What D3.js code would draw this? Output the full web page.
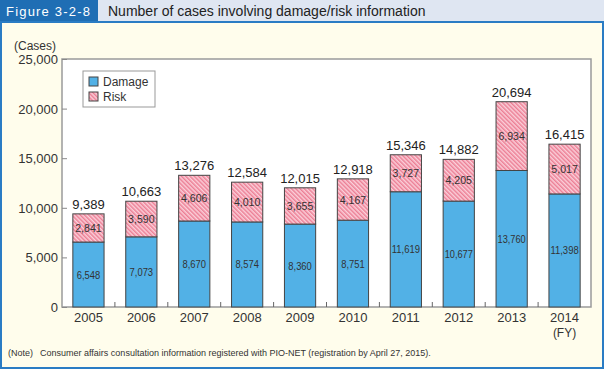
<!DOCTYPE html>
<html>
<head>
<meta charset="utf-8">
<script src="https://cdn.jsdelivr.net/npm/d3@7"></script>
<style>
  body { margin: 0; background: #fff; }
  svg { display: block; font-family: "Liberation Sans", Arial, sans-serif; }
</style>
</head>
<body>
<div id="chart"></div>
<script>
const years = ["2005", "2006", "2007", "2008", "2009", "2010", "2011", "2012", "2013", "2014"]
const damage = [6548, 7073, 8670, 8574, 8360, 8751, 11619, 10677, 13760, 11398]
const risk = [2841, 3590, 4606, 4010, 3655, 4167, 3727, 4205, 6934, 5017]
const totals = [9389, 10663, 13276, 12584, 12015, 12918, 15346, 14882, 20694, 16415]
const yTicks = [0, 5000, 10000, 15000, 20000, 25000]

const W = 604, H = 369
const m = { left: 62, right: 591, top: 59, bottom: 307 }
const fmt = d3.format(",")

const svg = d3.select("#chart").append("svg")
  .attr("width", W).attr("height", H)

const defs = svg.append("defs")
const pat = defs.append("pattern")
  .attr("id", "hatch").attr("patternUnits", "userSpaceOnUse")
  .attr("width", 3).attr("height", 3)
  .attr("patternTransform", "rotate(-45)")
pat.append("rect").attr("width", 3).attr("height", 3).attr("fill", "#fbd0da")
pat.append("rect").attr("width", 1.5).attr("height", 3).attr("fill", "#ec7f95")

// фон и рамка
svg.append("rect").attr("x", 0).attr("y", 0).attr("width", W).attr("height", H).attr("fill", "#fffdec")
svg.append("rect").attr("x", 0).attr("y", 0).attr("width", W).attr("height", 22).attr("fill", "#dfe6f2")
svg.append("rect").attr("x", 0).attr("y", 0).attr("width", 98).attr("height", 22).attr("fill", "#1f6eb4")
svg.append("rect").attr("x", 1).attr("y", 22).attr("width", W - 2).attr("height", H - 23)
  .attr("fill", "none").attr("stroke", "#2a7cc4").attr("stroke-width", 2)

svg.append("text").attr("x", 6).attr("y", 16)
  .attr("fill", "#fff").style("font-size", "13px").style("letter-spacing", "1.2px")
  .text("Figure 3-2-8")
svg.append("text").attr("x", 108).attr("y", 16)
  .attr("fill", "#222").style("font-size", "14px")
  .text("Number of cases involving damage/risk information")

const x = d3.scaleBand().domain(years).range([m.left, m.right]).paddingInner(0.41).paddingOuter(0.205)
const y = d3.scaleLinear().domain([0, 25000]).range([m.bottom, m.top])

// область графика
svg.append("rect").attr("x", m.left).attr("y", m.top)
  .attr("width", m.right - m.left).attr("height", m.bottom - m.top)
  .attr("fill", "#fff").attr("stroke", "#9a9a9a").attr("stroke-width", 1.5)

// ось Y
const yAxis = svg.append("g").attr("transform", `translate(${m.left},0)`)
  .call(d3.axisRight(y).tickValues(yTicks).tickSize(5).tickFormat(""))
yAxis.select(".domain").remove()
yAxis.selectAll("line").attr("stroke", "#888")
svg.selectAll(".ylab").data(yTicks).enter().append("text")
  .attr("x", m.left - 4).attr("y", d => y(d) + 5)
  .attr("text-anchor", "end").style("font-size", "13px").attr("fill", "#333")
  .text(d => fmt(d))
svg.append("text").attr("x", 14).attr("y", 50).style("font-size", "12px").attr("fill", "#333").text("(Cases)")

// тики между категориями
const step = x.step()
svg.selectAll(".xtick").data(years.slice(1)).enter().append("line")
  .attr("x1", d => x(d) - x.paddingInner() * step / 2)
  .attr("x2", d => x(d) - x.paddingInner() * step / 2)
  .attr("y1", m.bottom).attr("y2", m.bottom - 5)
  .attr("stroke", "#666")

// столбцы
const g = svg.selectAll(".bar").data(years).enter().append("g")
g.append("rect")
  .attr("x", d => x(d)).attr("width", x.bandwidth())
  .attr("y", (d, i) => y(damage[i])).attr("height", (d, i) => y(0) - y(damage[i]))
  .attr("fill", "#52b1e6").attr("stroke", "#444").attr("stroke-width", 1)
g.append("rect")
  .attr("x", d => x(d)).attr("width", x.bandwidth())
  .attr("y", (d, i) => y(damage[i] + risk[i])).attr("height", (d, i) => y(0) - y(risk[i]))
  .attr("fill", "url(#hatch)").attr("stroke", "#444").attr("stroke-width", 1)

g.append("text")
  .attr("x", d => x(d) + x.bandwidth() / 2)
  .attr("y", (d, i) => (y(0) + y(damage[i])) / 2 + 4)
  .attr("text-anchor", "middle").style("font-size", "11px").attr("fill", "#333")
  .attr("textLength", (d, i) => fmt(damage[i]).length * 4.7).attr("lengthAdjust", "spacingAndGlyphs")
  .text((d, i) => fmt(damage[i]))
g.append("text")
  .attr("x", d => x(d) + x.bandwidth() / 2)
  .attr("y", (d, i) => (y(damage[i]) + y(damage[i] + risk[i])) / 2 + 4)
  .attr("text-anchor", "middle").style("font-size", "11.5px").attr("fill", "#333")
  .attr("textLength", (d, i) => fmt(risk[i]).length * 5.3).attr("lengthAdjust", "spacingAndGlyphs")
  .text((d, i) => fmt(risk[i]))
g.append("text")
  .attr("x", d => x(d) + x.bandwidth() / 2)
  .attr("y", (d, i) => y(totals[i]) - 5)
  .attr("text-anchor", "middle").style("font-size", "13px").attr("fill", "#222")
  .text((d, i) => fmt(totals[i]))

// подписи X
svg.selectAll(".xlab").data(years).enter().append("text")
  .attr("x", d => x(d) + x.bandwidth() / 2).attr("y", 322)
  .attr("text-anchor", "middle").style("font-size", "13px").attr("fill", "#333")
  .text(d => d)
svg.append("text").attr("x", x("2014") + x.bandwidth() / 2).attr("y", 337)
  .attr("text-anchor", "middle").style("font-size", "12px").attr("fill", "#333").text("(FY)")

// легенда
const lg = svg.append("g").attr("transform", "translate(83,71)")
lg.append("rect").attr("width", 72).attr("height", 36).attr("fill", "#fff").attr("stroke", "#999")
const legendItems = [["Damage", "#52b1e6"], ["Risk", "url(#hatch)"]]
legendItems.forEach((d, i) => {
  lg.append("rect").attr("x", 6).attr("y", 6 + i * 15).attr("width", 9).attr("height", 9)
    .attr("fill", d[1]).attr("stroke", "#444")
  lg.append("text").attr("x", 20).attr("y", 15 + i * 15)
    .style("font-size", "12px").attr("fill", "#333").text(d[0])
})

svg.append("text").attr("x", 8).attr("y", 356)
  .style("font-size", "9px").attr("fill", "#333")
  .text("(Note)\u2002 Consumer affairs consultation information registered with PIO-NET (registration by April 27, 2015).")
</script>
</body>
</html>
